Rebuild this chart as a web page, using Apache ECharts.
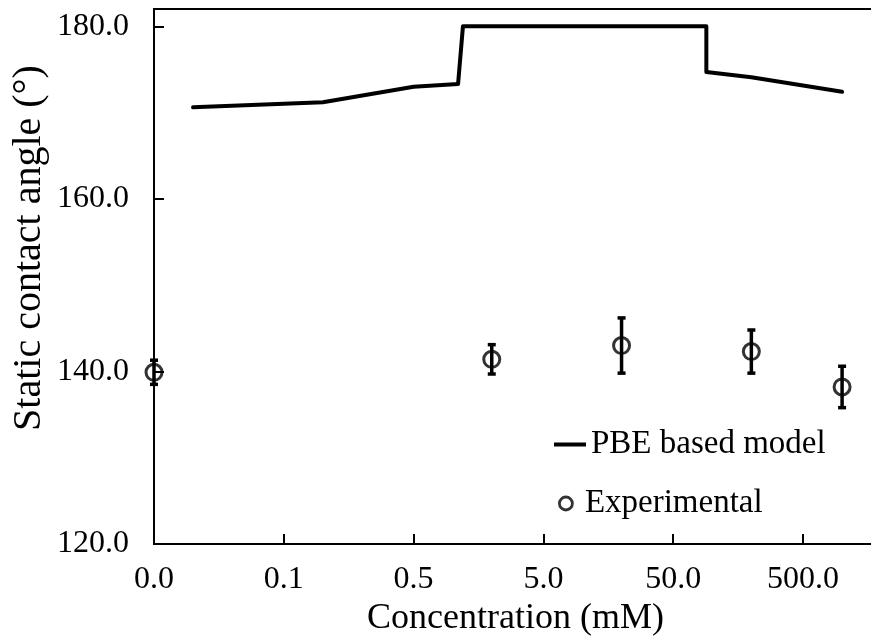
<!DOCTYPE html>
<html>
<head>
<meta charset="utf-8">
<script src="https://cdn.jsdelivr.net/npm/echarts@6/dist/echarts.min.js"></script>
<style>html,body{margin:0;padding:0;background:#fff;overflow:hidden}#c{width:871px;height:639px}</style>
</head>
<body>
<div id="c"></div>
<script>
// ---- data ----
const xBase = 0.005;                       // lowest concentration shown at the first tick
const xTickLabels = ['0.0', '0.1', '0.5', '5.0', '50.0', '500.0'];
const yTickLabels = ['120.0', '140.0', '160.0', '180.0'];
const modelConc  = [0.01, 0.1, 0.5, 1.1, 1.2, 90, 90, 200, 1000];
const modelAngle = [170.6, 171.2, 173.0, 173.3, 180.0, 180.0, 174.7, 174.1, 172.4];
const expConc  = [0.005, 2, 20, 200, 1000];
const expAngle = [139.9, 141.4, 143.0, 142.3, 138.2];
const expErr   = [1.4, 1.7, 3.2, 2.5, 2.4];
const seriesNames = ['PBE based model', 'Experimental'];

const lx = c => Math.log10(c / xBase);
const modelData = modelConc.map((c, i) => [lx(c), modelAngle[i]]);
const expData = expConc.map((c, i) => [lx(c), expAngle[i]]);
const errData = expConc.map((c, i) => [lx(c), expAngle[i] - expErr[i], expAngle[i] + expErr[i]]);

const FONT = '"Liberation Serif", "Times New Roman", serif';
const chart = echarts.init(document.getElementById('c'), null, {renderer: 'canvas'});
chart.setOption({
  animation: false,
  backgroundColor: '#fff',
  grid: {left: 154, top: 9, right: -6, bottom: 95, outerBoundsMode: 'none', containLabel: false,
    show: true, borderColor: '#000', borderWidth: 2, backgroundColor: 'transparent'},
  xAxis: {
    type: 'value', min: 0, max: 5.57, interval: 1,
    name: 'Concentration (mM)', nameLocation: 'middle', nameGap: 55,
    nameTextStyle: {fontFamily: FONT, fontSize: 36, color: '#000'},
    axisLine: {lineStyle: {color: '#000', width: 2}},
    axisTick: {inside: true, length: 10, lineStyle: {color: '#000', width: 2}},
    axisLabel: {fontFamily: FONT, fontSize: 32, color: '#000', margin: 20, showMaxLabel: false,
      formatter: v => { const k = Math.round(v); return Math.abs(v - k) < 1e-6 && xTickLabels[k] !== undefined ? xTickLabels[k] : ''; }},
    splitLine: {show: false}
  },
  yAxis: {
    type: 'value', min: 120, max: 182, interval: 20,
    axisLine: {show: true, lineStyle: {color: '#000', width: 2}},
    axisTick: {show: true, inside: true, length: 10, lineStyle: {color: '#000', width: 2}},
    axisLabel: {fontFamily: FONT, fontSize: 32, color: '#000', margin: 25, showMaxLabel: false,
      formatter: v => { const idx = Math.round((v - 120) / 20); return Math.abs(v - (120 + idx * 20)) < 1e-6 && yTickLabels[idx] ? yTickLabels[idx] : ''; }},
    splitLine: {show: false}
  },
  graphic: [{
    type: 'text', x: 29, y: 248, rotation: Math.PI / 2,
    style: {text: 'Static contact angle (°)', fontFamily: FONT, fontSize: 40, fill: '#000', textAlign: 'center', textVerticalAlign: 'middle'}
  }],
  legend: [
    {
      orient: 'vertical', left: 549, top: 423, itemWidth: 32, itemHeight: 4, icon: 'rect',
      data: [seriesNames[0]],
      textStyle: {fontFamily: FONT, fontSize: 33, color: '#000'}
    },
    {
      orient: 'vertical', left: 553, top: 482, itemWidth: 28, itemHeight: 13,
      data: [seriesNames[1]],
      itemStyle: {color: 'rgba(255,255,255,0)', borderColor: '#000', borderWidth: 2.8},
      textStyle: {fontFamily: FONT, fontSize: 33, color: '#000'}
    }
  ],
  series: [
    {
      name: seriesNames[0], type: 'line', data: modelData, symbol: 'none', showSymbol: false,
      lineStyle: {color: '#000', width: 4, cap: 'round', join: 'round'}, itemStyle: {color: '#000'}
    },
    {
      name: 'err', type: 'custom', data: errData, z: 3,
      renderItem: (params, api) => {
        const x = api.value(0);
        const lo = api.coord([x, api.value(1)]);
        const hi = api.coord([x, api.value(2)]);
        const w = 4;
        const st = {stroke: '#000', lineWidth: 3.5};
        return {type: 'group', children: [
          {type: 'line', shape: {x1: lo[0], y1: lo[1], x2: hi[0], y2: hi[1]}, style: st},
          {type: 'line', shape: {x1: lo[0] - w, y1: lo[1], x2: lo[0] + w, y2: lo[1]}, style: st},
          {type: 'line', shape: {x1: hi[0] - w, y1: hi[1], x2: hi[0] + w, y2: hi[1]}, style: st}
        ]};
      }
    },
    {
      name: seriesNames[1], type: 'scatter', data: expData, symbol: 'circle', symbolSize: 16, z: 4,
      itemStyle: {color: 'rgba(255,255,255,0)', borderColor: '#000', borderWidth: 3}
    }
  ]
});
</script>
</body>
</html>
